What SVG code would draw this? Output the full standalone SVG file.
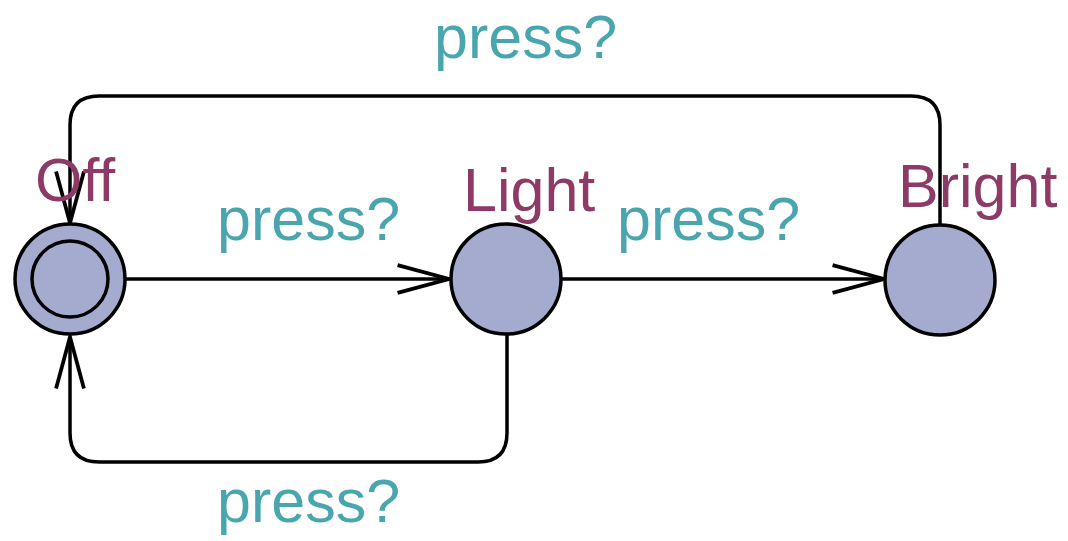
<svg xmlns="http://www.w3.org/2000/svg" width="1068" height="541" viewBox="0 0 1068 541">
<style>
.loc{fill:#a4abcf;stroke:#000;stroke-width:3.5}
.name{font-family:"Liberation Sans",Arial,sans-serif;font-size:61px;fill:#8e3a66}
.lbl{font-family:"Liberation Sans",Arial,sans-serif;font-size:61px;fill:#4aa6ae}
.edge{fill:none;stroke:#000;stroke-width:3.5}
</style>
<defs>
<marker id="arr" markerUnits="userSpaceOnUse" markerWidth="60" markerHeight="40" refX="0" refY="0" viewBox="-52 -18 56 36" orient="auto" overflow="visible">
<path d="M-48,-13 L0,0 L-48,13" fill="none" stroke="#000" stroke-width="3.5"/>
</marker>
</defs>
<rect width="1068" height="541" fill="#fff"/>
<g id="connectors">
<path class="edge" d="M126,279 H449" marker-end="url(#arr)"/>
<path class="edge" d="M562,279 H884" marker-end="url(#arr)"/>
<path class="edge" d="M940,224 V125 Q940,96 911,96 H99 Q70,96 70,125 V223" marker-end="url(#arr)"/>
<path class="edge" d="M507,334 V433 Q507,462 478,462 H99 Q70,462 70,433 V337" marker-end="url(#arr)"/>
<text class="lbl" x="217" y="240">press?</text>
<text class="lbl" x="617" y="240">press?</text>
<text class="lbl" x="434" y="58">press?</text>
<text class="lbl" x="217" y="522">press?</text>
</g>
<g id="Off">
<circle class="loc" cx="70" cy="279" r="55"/>
<circle class="loc" cx="70" cy="279" r="38"/>
<text class="name" x="35" y="201">Off</text>
</g>
<g id="Light">
<circle class="loc" cx="506" cy="279" r="55"/>
<text class="name" x="463" y="211">Light</text>
</g>
<g id="Bright">
<circle class="loc" cx="940" cy="280" r="55"/>
<text class="name" x="898" y="207">Bright</text>
</g>
</svg>
